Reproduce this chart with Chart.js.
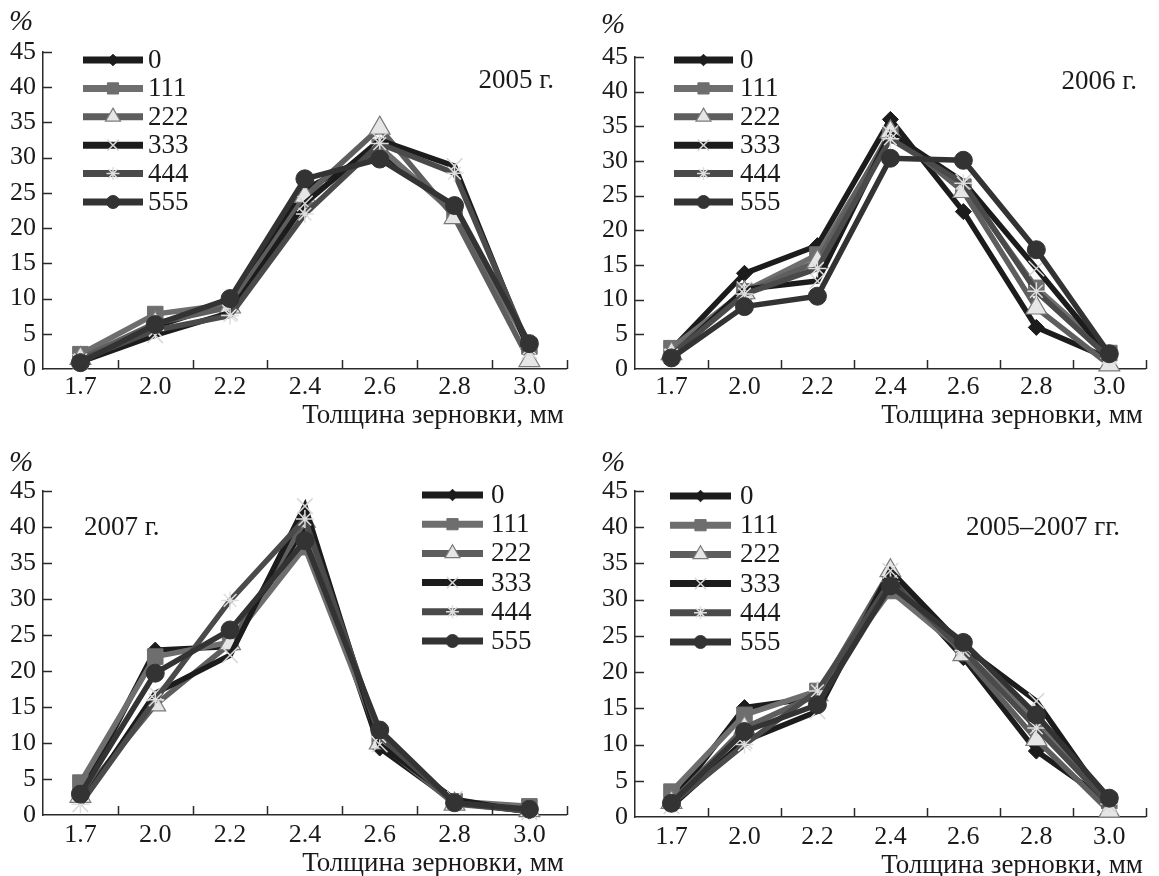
<!DOCTYPE html>
<html><head><meta charset="utf-8">
<script src="https://cdn.jsdelivr.net/npm/chart.js@4.4.1/dist/chart.umd.min.js"></script>
<style>
html,body{margin:0;padding:0;background:#fff}
body{width:1159px;height:876px;overflow:hidden;position:relative}
.p{position:absolute}
</style></head><body>
<div class="p" style="left:0;top:0;width:580px;height:438px"><canvas id="c1"></canvas></div>
<div class="p" style="left:580px;top:0;width:579px;height:438px"><canvas id="c2"></canvas></div>
<div class="p" style="left:0;top:438px;width:580px;height:438px"><canvas id="c3"></canvas></div>
<div class="p" style="left:580px;top:438px;width:579px;height:438px"><canvas id="c4"></canvas></div>
<script>
// ---- data ----
const categories = ['1.7','2.0','2.2','2.4','2.6','2.8','3.0'];
const seriesNames = ['0','111','222','333','444','555'];
const yTicks = [0,5,10,15,20,25,30,35,40,45];
const xTitle = 'Толщина зерновки, мм';
const yUnit = '%';
const panelTitles = ['2005 г.','2006 г.','2007 г.','2005–2007 гг.'];

const data2005 = [
  [1.2, 6.0, 9.5, 25.5, 31.0, 22.5, 3.5],
  [2.1, 7.8, 9.2, 24.0, 31.5, 22.0, 3.2],
  [1.5, 6.5, 8.8, 24.5, 34.2, 21.5, 1.2],
  [1.0, 4.8, 8.0, 23.5, 32.5, 28.8, 2.5],
  [1.3, 5.5, 7.6, 22.0, 32.0, 27.8, 3.0],
  [0.9, 6.3, 10.0, 27.0, 29.8, 23.2, 3.6]
];
const data2006 = [
  [2.8, 13.8, 17.8, 36.0, 22.7, 6.0, 1.5],
  [3.0, 11.2, 16.5, 33.7, 26.3, 11.7, 2.3],
  [2.2, 11.0, 15.5, 34.2, 25.6, 8.8, 0.6],
  [1.8, 11.5, 12.7, 34.0, 27.0, 14.5, 1.8],
  [2.0, 10.8, 14.5, 33.2, 26.8, 11.2, 1.6],
  [1.6, 9.0, 10.5, 30.4, 30.1, 17.2, 2.2]
];
const data2007 = [
  [2.9, 22.9, 23.4, 40.0, 9.3, 1.8, 0.5],
  [4.5, 22.0, 24.0, 37.2, 10.5, 1.9, 1.2],
  [2.6, 15.3, 23.8, 40.8, 10.0, 1.5, 0.6],
  [1.5, 16.9, 22.2, 42.9, 9.8, 2.2, 0.4],
  [1.5, 16.0, 29.8, 41.1, 10.9, 1.7, 0.5],
  [2.9, 19.7, 25.7, 38.1, 11.8, 1.7, 0.8]
];
const data2005_2007 = [
  [2.0, 15.1, 16.5, 33.0, 22.0, 9.1, 2.0],
  [3.5, 14.1, 17.4, 31.2, 22.9, 13.2, 2.2],
  [2.0, 12.3, 16.9, 34.0, 22.4, 10.7, 0.8],
  [1.5, 10.5, 14.6, 34.0, 23.5, 16.0, 1.6],
  [1.8, 10.0, 17.4, 32.5, 23.0, 12.3, 1.8],
  [1.9, 11.8, 15.5, 31.9, 24.1, 14.1, 2.6]
];

// ---- styles ----
const lineColors   = ['#1c1c1c','#6e6e6e','#5e5e5e','#1c1c1c','#4a4a4a','#333333'];
const pointStyles  = ['rectRot','rect','triangle','crossRot','star','circle'];
const pointFills   = ['#1c1c1c','#6e6e6e','#e6e6e6','#d6d6d6','#dedede','#333333'];
const pointBorders = ['#1c1c1c','#6e6e6e','#7a7a7a','#d6d6d6','#dedede','#333333'];
const pointBW      = [1, 1, 1.2, 1.5, 1.5, 1];
const pointRadii   = [8, 11, 12, 11, 9, 9];
const FONT = '"Liberation Serif", "DejaVu Serif", serif';
const AXIS = '#2a2a2a';
const TXT = '#1a1a1a';

const annot = {
  id: 'annot',
  afterDraw(chart, args, o) {
    const ctx = chart.ctx;
    const {left, right, top, bottom} = chart.chartArea;
    const ys = chart.scales.y;
    ctx.save();
    // inner tick marks
    ctx.strokeStyle = AXIS; ctx.lineWidth = 1.5;
    ctx.beginPath();
    yTicks.forEach(v => { if (v === 0) return; const y = Math.round(ys.getPixelForValue(v)) + 0.5; ctx.moveTo(left, y); ctx.lineTo(left + 9, y); });
    const n = categories.length;
    for (let i = 1; i <= n; i++) { const x = Math.round(left + i * (right - left) / n) + 0.5; ctx.moveTo(x, bottom); ctx.lineTo(x, bottom - 9); }
    ctx.stroke();
    // texts
    ctx.fillStyle = TXT;
    ctx.textBaseline = 'middle';
    ctx.font = 'italic 29px ' + FONT; ctx.textAlign = 'center';
    ctx.fillText(yUnit, o.pct[0], o.pct[1]);
    ctx.font = '27px ' + FONT;
    ctx.textAlign = 'right';
    ctx.fillText(xTitle, right - 3, bottom + o.titleDy);
    ctx.textAlign = o.yearAlign;
    ctx.fillText(o.year, o.yearX, o.yearY);
    // legend
    const lg = o.legend;
    seriesNames.forEach((name, i) => {
      const y = lg.y0 + i * lg.dy;
      ctx.strokeStyle = lineColors[i]; ctx.lineWidth = 7; ctx.lineCap = 'butt';
      ctx.beginPath(); ctx.moveTo(lg.x1, y); ctx.lineTo(lg.x2, y); ctx.stroke();
      ctx.fillStyle = pointFills[i]; ctx.strokeStyle = pointBorders[i];
      ctx.lineWidth = pointBW[i];
      Chart.helpers.drawPoint(ctx, {pointStyle: pointStyles[i], radius: pointRadii[i] * 0.72, borderWidth: pointBW[i], rotation: 0}, (lg.x1 + lg.x2) / 2, y);
      ctx.fillStyle = TXT;
      ctx.font = '27px ' + FONT; ctx.textAlign = 'left';
      ctx.fillText(name, lg.tx, y + 1);
    });
    ctx.restore();
  }
};

function makeChart(id, rows, p) {
  const datasets = rows.map((vals, i) => ({
    label: seriesNames[i],
    data: vals,
    borderColor: lineColors[i],
    borderWidth: 5.5,
    pointStyle: pointStyles[i],
    pointRadius: pointRadii[i],
    pointHoverRadius: pointRadii[i],
    pointBackgroundColor: pointFills[i],
    pointBorderColor: pointBorders[i],
    pointBorderWidth: pointBW[i],
    tension: 0,
    fill: false,
    clip: false,
    order: rows.length - i
  }));
  return new Chart(document.getElementById(id), {
    type: 'line',
    data: { labels: categories, datasets },
    plugins: [annot],
    options: {
      responsive: true, maintainAspectRatio: false, animation: false,
      layout: { padding: { top: p.top, right: p.right, left: 0, bottom: 0 } },
      plugins: { legend: { display: false }, tooltip: { enabled: false }, annot: p.annot },
      scales: {
        x: {
          type: 'category', offset: true,
          grid: { display: true, drawOnChartArea: false, drawTicks: false, offset: true },
          border: { display: true, color: AXIS, width: 1.5 },
          ticks: { color: TXT, font: { family: FONT, size: 26 }, padding: p.xpad, maxRotation: 0, autoSkip: false },
          afterFit: s => { s.height = p.xh; }
        },
        y: {
          min: 0, max: 45,
          afterBuildTicks: s => { s.ticks = yTicks.map(v => ({ value: v })); },
          grid: { display: true, drawOnChartArea: false, drawTicks: false },
          border: { display: true, color: AXIS, width: 1.5 },
          ticks: { color: TXT, font: { family: FONT, size: 26 }, padding: 7 },
          afterFit: s => { s.width = p.yw; }
        }
      }
    }
  });
}

makeChart('c1', data2005, { top: 52, right: 10, xh: 69, yw: 43, xpad: 3,
  annot: { pct: [21, 22], titleDy: 47, year: panelTitles[0], yearAlign: 'right', yearX: 554, yearY: 81,
           legend: { x1: 83, x2: 143, tx: 148, y0: 60, dy: 28.4 } } });
makeChart('c2', data2006, { top: 57, right: 2, xh: 69, yw: 55, xpad: 3,
  annot: { pct: [33, 25], titleDy: 47, year: panelTitles[1], yearAlign: 'right', yearX: 557, yearY: 82,
           legend: { x1: 94, x2: 153, tx: 160, y0: 60, dy: 28.4 } } });
makeChart('c3', data2007, { top: 53, right: 10, xh: 61, yw: 43, xpad: 5,
  annot: { pct: [21, 25], titleDy: 49, year: panelTitles[2], yearAlign: 'left', yearX: 84, yearY: 90,
           legend: { x1: 422, x2: 483, tx: 491, y0: 57, dy: 29.2 } } });
makeChart('c4', data2005_2007, { top: 53, right: 2, xh: 59, yw: 55, xpad: 5,
  annot: { pct: [33, 25], titleDy: 49, year: panelTitles[3], yearAlign: 'right', yearX: 540, yearY: 90,
           legend: { x1: 90, x2: 151, tx: 160, y0: 58, dy: 29.2 } } });
</script>
</body></html>
